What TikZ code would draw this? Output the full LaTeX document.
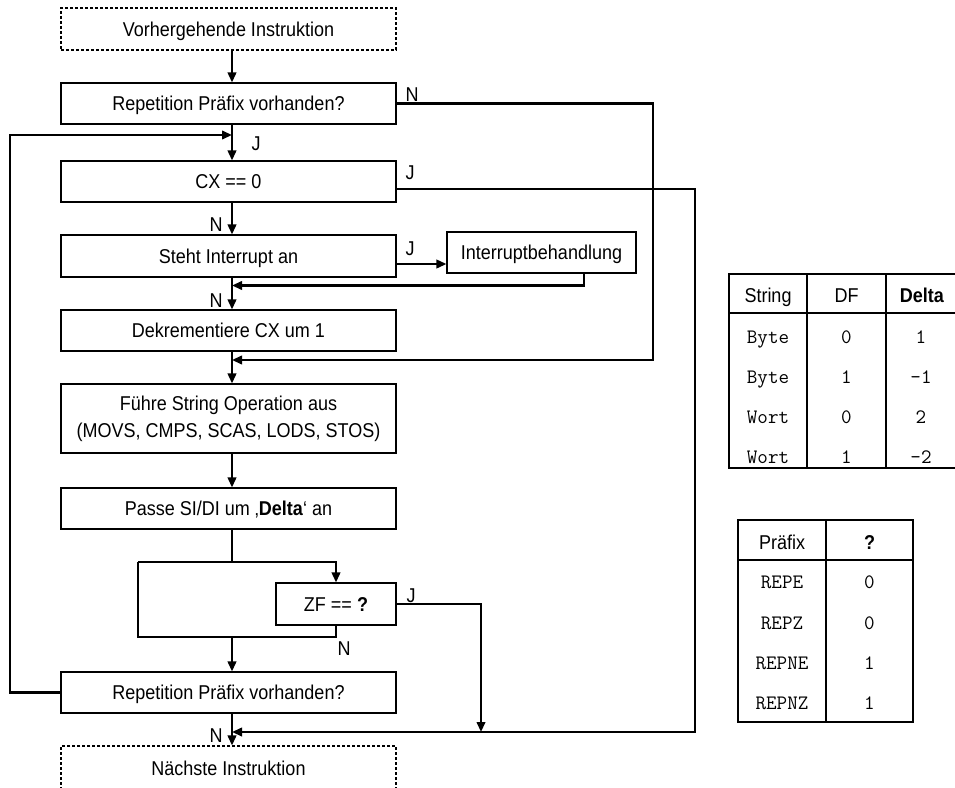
\documentclass[tikz,border=0pt]{standalone}
\usepackage{fontspec}
\setmainfont{Liberation Sans}[FakeStretch=0.9]
\usetikzlibrary{arrows.meta}

\begin{document}
\begin{tikzpicture}[x=1pt,y=-1pt,
  every node/.style={font=\fontsize{20}{27}\selectfont, inner sep=0pt},
  stepbox/.style={draw, line width=1.1pt, minimum width=335pt, minimum height=41pt,
                  align=center, text height=14pt, text depth=0pt},
  termbox/.style={stepbox, dash pattern=on 3pt off 2pt},
  conn/.style={line width=2.2pt},
  arr/.style={conn, -{Triangle[length=10pt,width=8.5pt]}},
  lbl/.style={text height=14pt, text depth=0pt},
  mono/.style={font=\fontsize{20.5}{22}\ttfamily\selectfont, text height=12pt, text depth=0pt},
  grid/.style={line width=1.6pt}
]
\useasboundingbox (0,0) rectangle (955,787);

% ---------- flow boxes ----------
\node[termbox, minimum height=42pt] (prev) at (228.5,29) {Vorhergehende Instruktion};
\node[stepbox] (rep1) at (228.5,103.5) {Repetition Präfix vorhanden?};
\node[stepbox] (cx)   at (228.5,181.5) {CX == 0};
\node[stepbox, minimum height=42pt] (irq)  at (228.5,256) {Steht Interrupt an};
\node[stepbox] (dec)  at (228.5,330.5) {Dekrementiere CX um 1};
\node[draw, line width=1.1pt, minimum width=335pt, minimum height=69pt, align=center]
      (op) at (228.5,418.5) {Führe String Operation aus\\(MOVS, CMPS, SCAS, LODS, STOS)};
\node[stepbox] (adj)  at (228.5,508.5) {Passe SI/DI um ‚\textbf{Delta}‘ an};
\node[stepbox, minimum width=120pt, minimum height=42pt] (zf) at (336,604) {ZF == \textbf{?}};
\node[stepbox] (rep2) at (228.5,692.5) {Repetition Präfix vorhanden?};
\node[termbox, minimum height=44pt] (next) at (228.5,768) {Nächste Instruktion};
\node[stepbox, minimum width=189pt] (isr) at (541.5,252.5) {Interruptbehandlung};

% ---------- routing points ----------
\coordinate (spine)   at (232,0);
\coordinate (loopIn)  at (232,135);
\coordinate (irqRet)  at (232,285.5);
\coordinate (skipIn)  at (232,360);
\coordinate (exitIn)  at (232,732);
\coordinate (lpTL)    at (138,562);
\coordinate (lpTM)    at (232,562);
\coordinate (lpBL)    at (138,637);
\coordinate (lpBM)    at (232,637);
\coordinate (cxJy)    at (0,189);
\coordinate (irqJy)   at (0,264);
\coordinate (rightA)  at (653,0);
\coordinate (rightB)  at (695,0);
\coordinate (zfRight) at (481,0);
\coordinate (leftX)   at (10,0);
\coordinate (isrRetX) at (584,0);

% ---------- connectors ----------
\draw[arr] (prev.south -| spine) -- (rep1.north -| spine);
\draw[arr] (rep1.south -| spine) -- (cx.north -| spine);
\draw[arr] (rep2.west) -- (rep2.west -| leftX) -- (leftX |- loopIn) -- (loopIn);
\draw[arr] (cx.south -| spine) -- (irq.north -| spine);
\draw[arr] (irq.east |- irqJy) -- (isr.west |- irqJy);
\draw[arr] (isr.south -| isrRetX) -- (isrRetX |- irqRet) -- (irqRet);
\draw[arr] (irq.south -| spine) -- (dec.north -| spine);
\draw[arr] (rep1.east) -- (rep1.east -| rightA) -- (rightA |- skipIn) -- (skipIn);
\draw[arr] (dec.south -| spine) -- (op.north -| spine);
\draw[arr] (cx.east |- cxJy) -- (rightB |- cxJy) -- (rightB |- exitIn) -- (exitIn);
\draw[arr] (op.south -| spine) -- (adj.north -| spine);
\draw[conn] (adj.south -| spine) -- (lpTM);
\draw[arr] (lpTL) -- (lpTL -| zf.north) -- (zf.north);
\draw[conn] (zf.south) -- (zf.south |- lpBL) -- (lpBL) -- (lpTL);
\draw[arr] (lpBM) -- (rep2.north -| spine);
\draw[arr] (zf.east) -- (zf.east -| zfRight) -- (zfRight |- exitIn);
\draw[arr] (rep2.south -| spine) -- (next.north -| spine);

% ---------- branch labels ----------
\node[lbl] (lRep1N) at (412,94)  {N};
\node[lbl] (lLoopJ) at (256,143) {J};
\node[lbl] (lCxJ)   at (410,172) {J};
\node[lbl] (lCxN)   at (216,224) {N};
\node[lbl] (lIrqJ)  at (410,248) {J};
\node[lbl] (lIrqN)  at (216,300) {N};
\node[lbl] (lZfJ)   at (411,595) {J};
\node[lbl] (lZfN)   at (344,648) {N};
\node[lbl] (lRep2N) at (216,735) {N};

% ---------- table: string direction ----------
\draw[grid] (955,274) -- (729,274) -- (729,468) -- (955,468);
\draw[grid] (729,313) -- (955,313);
\draw[grid] (807,274) -- (807,468);
\draw[grid] (886,274) -- (886,468);
\node[lbl] (tS) at (768,295)   {String};
\node[lbl] (tD) at (846.5,295) {DF};
\node[lbl] (tL) at (922,295)   {\textbf{Delta}};
\node[mono] (s1) at (768,337) {Byte};  \node[mono] (d1) at (846.5,337) {0}; \node[mono] (v1) at (921,337) {1};
\node[mono] (s2) at (768,377) {Byte};  \node[mono] (d2) at (846.5,377) {1}; \node[mono] (v2) at (921,377) {-1};
\node[mono] (s3) at (768,417) {Wort};  \node[mono] (d3) at (846.5,417) {0}; \node[mono] (v3) at (921,417) {2};
\node[mono] (s4) at (768,457) {Wort};  \node[mono] (d4) at (846.5,457) {1}; \node[mono] (v4) at (921,457) {-2};

% ---------- table: prefix condition ----------
\draw[grid] (738,520) rectangle (913,722);
\draw[grid] (738,560) -- (913,560);
\draw[grid] (826,520) -- (826,722);
\node[lbl] (pH) at (782,542)   {Präfix};
\node[lbl] (qH) at (869.5,542) {\textbf{?}};
\node[mono] (p1) at (782,582) {REPE};  \node[mono] (q1) at (869.5,582) {0};
\node[mono] (p2) at (782,623) {REPZ};  \node[mono] (q2) at (869.5,623) {0};
\node[mono] (p3) at (782,663) {REPNE}; \node[mono] (q3) at (869.5,663) {1};
\node[mono] (p4) at (782,703) {REPNZ}; \node[mono] (q4) at (869.5,703) {1};
\end{tikzpicture}
\end{document}
